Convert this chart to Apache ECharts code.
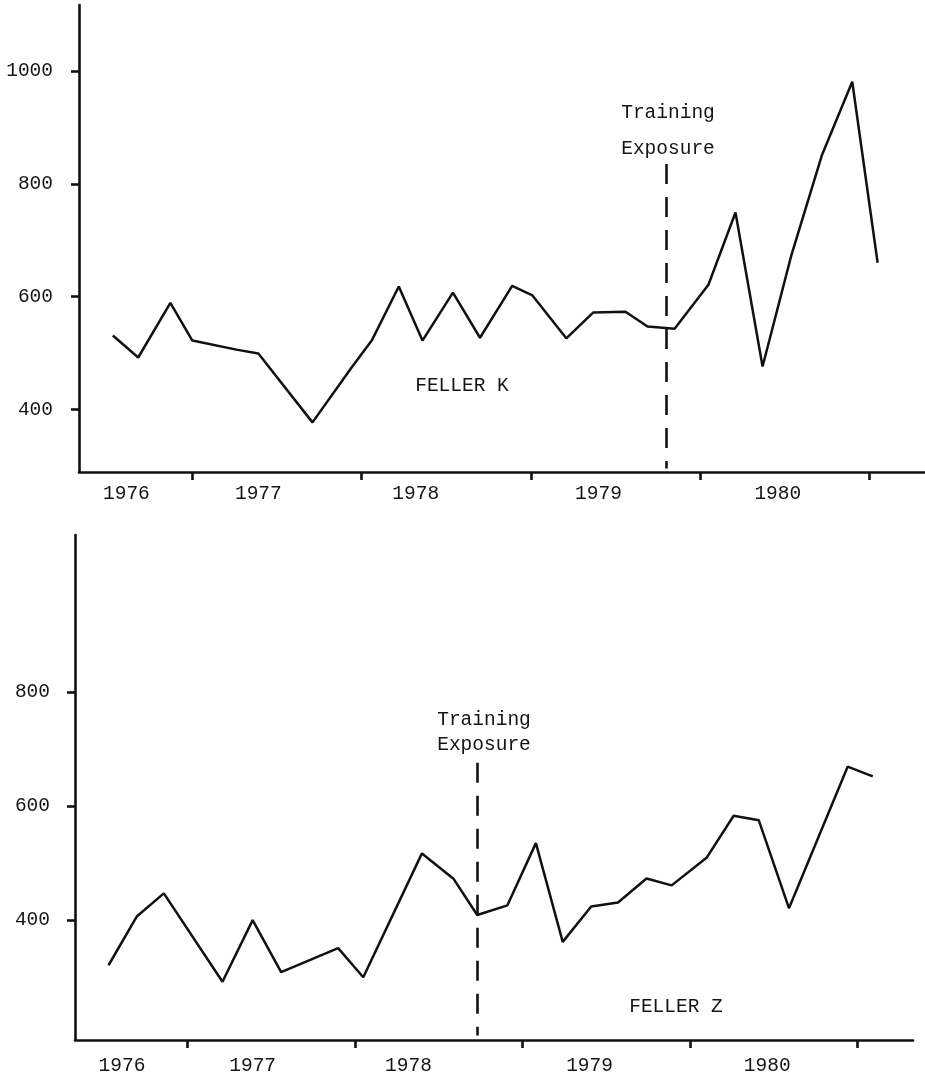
<!DOCTYPE html>
<html>
<head>
<meta charset="utf-8">
<script src="https://cdn.jsdelivr.net/npm/echarts@6/dist/echarts.min.js"></script>
<style>
html,body{margin:0;padding:0;background:#fff;}
#chart{width:925px;height:1077px;}
</style>
</head>
<body>
<div id="chart"></div>
<script>
// ---------- data ----------
var yearLabels = ['1976', '1977', '1978', '1979', '1980'];
var yearLabelAt = [1976.61, 1977.39, 1978.32, 1979.40, 1980.46];
var yearBoundaries = [1977, 1978, 1979, 1980, 1981];

var fellerKDates = [1976.53, 1976.68, 1976.87, 1977.00, 1977.26, 1977.39, 1977.71, 1977.94, 1978.06, 1978.22,
  1978.36, 1978.54, 1978.70, 1978.89, 1979.01, 1979.21, 1979.37, 1979.56, 1979.69, 1979.85,
  1980.05, 1980.21, 1980.37, 1980.54, 1980.72, 1980.90, 1981.05];
var fellerKValues = [531, 492, 589, 522, 506, 499, 377, 474, 522, 618,
  522, 607, 527, 619, 602, 526, 572, 573, 547, 543,
  621, 749, 476, 673, 850, 981, 660];
var fellerKTicks = [400, 600, 800, 1000];
var fellerKTraining = 1979.80;

var fellerZDates = [1976.53, 1976.70, 1976.86, 1977.21, 1977.39, 1977.56, 1977.90, 1978.05, 1978.40, 1978.59,
  1978.73, 1978.91, 1979.08, 1979.24, 1979.41, 1979.57, 1979.74, 1979.89, 1980.10, 1980.26,
  1980.41, 1980.59, 1980.94, 1981.09];
var fellerZValues = [321, 407, 447, 292, 400, 309, 351, 300, 517, 472,
  409, 426, 535, 362, 424, 431, 473, 461, 510, 583,
  575, 421, 669, 652];
var fellerZTicks = [400, 600, 800];
var fellerZTraining = 1978.73;

// ---------- build ----------
function pairs(xs, ys) { return xs.map(function (x, i) { return [x, ys[i]]; }); }

var INK = '#111111';
var TEXT = '#151515';
var LABEL_FONT = 'Liberation Mono';
var LABEL_SIZE = 19.5;

function xAxisFor(gridIndex, labelMargin) {
  return {
    type: 'value', gridIndex: gridIndex, min: 1976.33, max: 1981.33,
    axisLine: { show: true, onZero: false, lineStyle: { color: INK, width: 2.6 } },
    axisTick: { show: true, inside: false, length: 8, customValues: yearBoundaries, lineStyle: { color: INK, width: 2.6 } },
    axisLabel: {
      show: true, customValues: yearLabelAt, margin: labelMargin,
      color: TEXT, fontFamily: LABEL_FONT, fontSize: LABEL_SIZE,
      formatter: function (v) {
        for (var i = 0; i < yearLabelAt.length; i++) { if (Math.abs(v - yearLabelAt[i]) < 1e-6) return yearLabels[i]; }
        return '';
      }
    },
    splitLine: { show: false }
  };
}
function yAxisFor(gridIndex, min, max, ticks, margin) {
  return {
    type: 'value', gridIndex: gridIndex, min: min, max: max,
    axisLine: { show: true, onZero: false, lineStyle: { color: INK, width: 2.6 } },
    axisTick: { show: true, inside: false, length: 8, customValues: ticks, lineStyle: { color: INK, width: 2.6 } },
    axisLabel: {
      show: true, customValues: ticks, margin: margin, color: TEXT, fontFamily: LABEL_FONT, fontSize: LABEL_SIZE,
      formatter: function (v) { return String(Math.round(v)); }
    },
    splitLine: { show: false }
  };
}
function dashed(x, yTop, yBottom) {
  return {
    silent: true, symbol: 'none', label: { show: false },
    lineStyle: { color: INK, width: 2.6, type: [20, 13] },
    data: [[{ coord: [x, yTop] }, { coord: [x, yBottom] }]]
  };
}
function txt(s, x, y) {
  return { type: 'text', x: x, y: y, style: { text: s, fill: TEXT, font: LABEL_SIZE + 'px "Liberation Mono"', textAlign: 'center', textVerticalAlign: 'middle' } };
}

var chart = echarts.init(document.getElementById('chart'), null, { renderer: 'canvas' });
chart.setOption({
  backgroundColor: '#ffffff',
  animation: false,
  grid: [
    { left: 79, top: 5, width: 846, height: 467, containLabel: false, outerBoundsMode: 'none' },
    { left: 75, top: 535, width: 838, height: 505, containLabel: false, outerBoundsMode: 'none' }
  ],
  xAxis: [xAxisFor(0, 12), xAxisFor(1, 16)],
  yAxis: [yAxisFor(0, 289, 1117, fellerKTicks, 26), yAxisFor(1, 190, 1075, fellerZTicks, 25)],
  series: [
    {
      name: 'FELLER K', type: 'line', xAxisIndex: 0, yAxisIndex: 0,
      data: pairs(fellerKDates, fellerKValues), showSymbol: false,
      lineStyle: { color: INK, width: 2.5 },
      markLine: dashed(fellerKTraining, 835, 295)
    },
    {
      name: 'FELLER Z', type: 'line', xAxisIndex: 1, yAxisIndex: 1,
      data: pairs(fellerZDates, fellerZValues), showSymbol: false,
      lineStyle: { color: INK, width: 2.5 },
      markLine: dashed(fellerZTraining, 676, 198)
    }
  ],
  graphic: [
    txt('Training', 668, 113),
    txt('Exposure', 668, 149),
    txt('FELLER K', 462, 386),
    txt('Training', 484, 720),
    txt('Exposure', 484, 745),
    txt('FELLER Z', 676, 1007)
  ]
});
</script>
</body>
</html>
